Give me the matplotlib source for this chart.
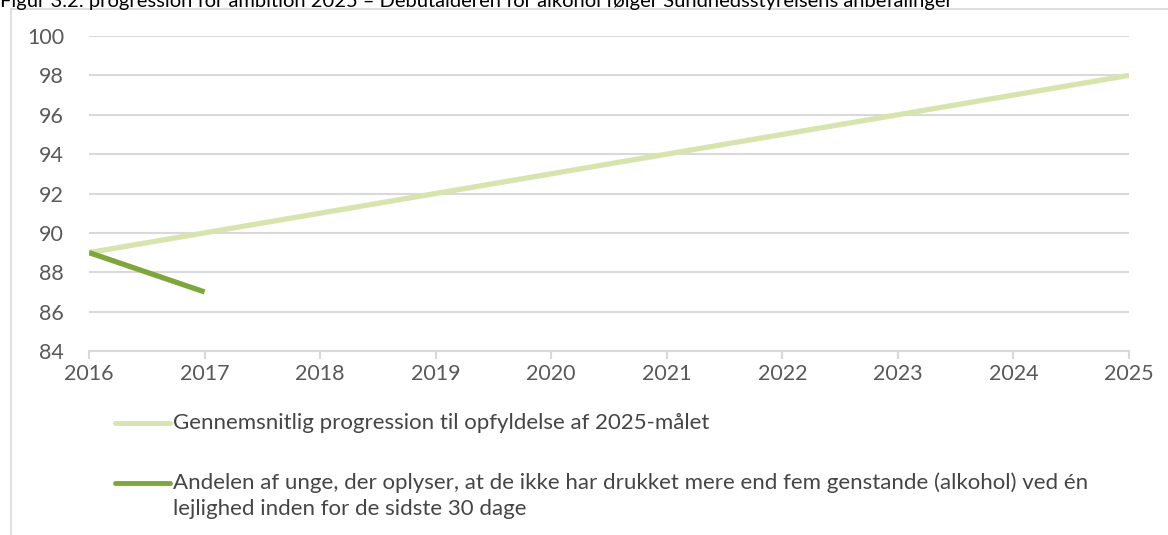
import matplotlib
matplotlib.use("Agg")
import matplotlib.pyplot as plt
from matplotlib.lines import Line2D

plt.rcParams['font.family'] = ['Lato', 'DejaVu Sans']

title = "Figur 3.2: progression for ambition 2025 – Debutalderen for alkohol følger Sundhedsstyrelsens anbefalinger"
years = [2016, 2017, 2018, 2019, 2020, 2021, 2022, 2023, 2024, 2025]
progression = [89, 90, 91, 92, 93, 94, 95, 96, 97, 98]
actual_years = [2016, 2017]
actual = [89, 87]
label_prog = "Gennemsnitlig progression til opfyldelse af 2025-målet"
label_actual = ("Andelen af unge, der oplyser, at de ikke har drukket mere end fem genstande (alkohol) ved én\n"
                "lejlighed inden for de sidste 30 dage")
yticks = [84, 86, 88, 90, 92, 94, 96, 98, 100]

light = "#d5e5ad"
dark = "#7fa63a"
grid_c = "#d9d9d9"
text_c = "#595959"
leg_text_c = "#454545"

W, H = 1168, 535
fig = plt.figure(figsize=(W / 100, H / 100), dpi=100)
ax = fig.add_axes([89 / W, 1 - 351 / H, (1129 - 89) / W, (351 - 36) / H])

l1, = ax.plot(years, progression, color=light, lw=3.8, solid_capstyle='butt', zorder=3)
l2, = ax.plot(actual_years, actual, color=dark, lw=3.8, solid_capstyle='butt', zorder=4)

ax.set_xlim(years[0], years[-1])
ax.set_ylim(yticks[0], yticks[-1])
ax.set_yticks(yticks)
ax.set_xticks(years)
ax.set_xticklabels([str(y) for y in years])
ax.grid(axis='y', color=grid_c, lw=1.5)
ax.set_axisbelow(True)
for s in ['left', 'right', 'top']:
    ax.spines[s].set_visible(False)
ax.spines['bottom'].set_color(grid_c)
ax.spines['bottom'].set_linewidth(1.5)
ax.tick_params(axis='y', length=0, pad=18, labelsize=15.5, labelcolor=text_c)
ax.tick_params(axis='x', length=6, width=1.5, color=grid_c, pad=3, labelsize=15.5, labelcolor=text_c)

# frame lines
fig.add_artist(Line2D([10.5 / W, 1.0], [1 - 8.5 / H, 1 - 8.5 / H], transform=fig.transFigure,
                      color=grid_c, lw=1.2, zorder=0))
fig.add_artist(Line2D([10.5 / W, 10.5 / W], [0.0, 1 - 8.5 / H], transform=fig.transFigure,
                      color=grid_c, lw=1.2, zorder=0))

# title (partially cut at top, as in the reference)
fig.text(0.0, 1 - 1 / H, title, ha='left', va='center', fontsize=14.5, color='black', zorder=5)

# legend (manual)
fig.add_artist(Line2D([115 / W, 170 / W], [1 - 423 / H, 1 - 423 / H],
                      transform=fig.transFigure, color=l1.get_color(),
                      lw=3.5, solid_capstyle='round'))
fig.text(173 / W, 1 - 423 / H, label_prog, ha='left', va='center',
         fontsize=16, color=leg_text_c)
fig.add_artist(Line2D([115 / W, 170 / W], [1 - 483 / H, 1 - 483 / H],
                      transform=fig.transFigure, color=l2.get_color(),
                      lw=3.5, solid_capstyle='round'))
fig.text(173 / W, 1 - 472 / H, label_actual, ha='left', va='top',
         fontsize=16, color=leg_text_c, linespacing=1.4)

fig.savefig("out.png", dpi=100)
